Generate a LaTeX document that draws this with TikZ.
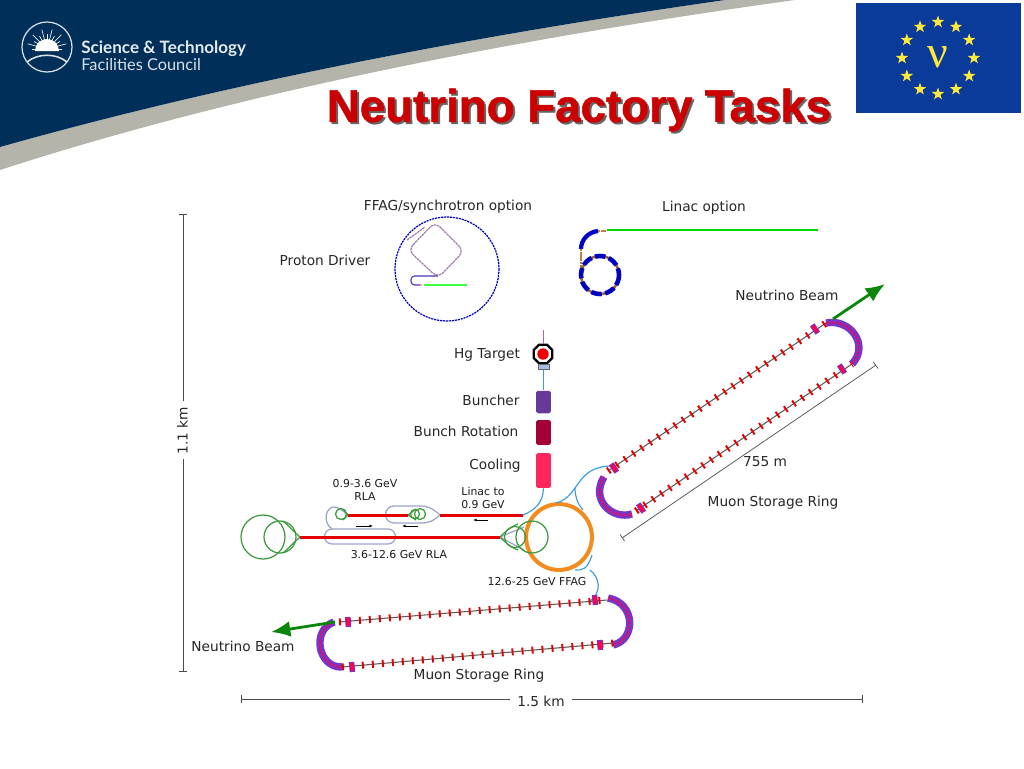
\documentclass[tikz,border=0pt]{standalone}
\usepackage{fontspec}
\setmainfont{DejaVu Sans}
\newfontfamily\titlefont[BoldFeatures={FakeBold=1.2}]{Liberation Sans}
\newfontfamily\logofont{Lato}
\newfontfamily\nufont{Liberation Serif}
\usetikzlibrary{shapes.geometric,calc,arrows.meta}
\definecolor{stfcnavy}{HTML}{00305A}
\definecolor{stfcgrey}{HTML}{B4B4AA}
\definecolor{flagblue}{HTML}{0A3A9A}
\definecolor{flagstar}{HTML}{FFE93B}
\definecolor{titlered}{HTML}{CC0000}
\definecolor{ringorange}{HTML}{F28C1E}
\definecolor{rlagreen}{HTML}{3C9A3C}
\definecolor{arcgrey}{HTML}{9AA4C8}
\definecolor{pipeblue}{HTML}{3A9AE0}
\definecolor{beamgreen}{HTML}{0A860A}
\definecolor{ringpurple}{HTML}{7438C8}
\definecolor{drivermauve}{HTML}{A07AA8}
\tikzset{
  label/.style={font=\fontsize{7.8}{9.5}\selectfont, text=black!85, inner sep=0pt, align=center, yshift=-.3pt},
  smalllabel/.style={font=\fontsize{6.2}{7.6}\selectfont, text=black!90, inner sep=0pt, align=center},
  stage/.style={draw=none, rounded corners=1pt, minimum width=8.5pt, inner sep=0pt},
  flagstarnode/.style={star, star points=5, star point ratio=2.5, fill=flagstar, inner sep=0pt, minimum size=7.4pt},
  rlaline/.style={red!90!black, line width=1.7pt},
  rlaloop/.style={rlagreen, line width=.7pt},
  arcloop/.style={arcgrey, line width=.7pt},
  pipe/.style={pipeblue, line width=.65pt},
  dimline/.style={black!70, line width=.4pt, |-|},
  beamarrow/.style={beamgreen, line width=1.6pt, -{Latex[length=11pt,width=9pt]}},
  smallarrow/.style={black, line width=.4pt, -{Latex[length=2pt,width=1.6pt]}},
  straightline/.style={black!65, line width=.6pt},
  quadtick/.style={red!90!black, line width=4pt, dash pattern=on 1.1pt off 4.6pt},
  bendbase/.style={ringpurple, line width=4.2pt},
  bendtick/.style={red!70!magenta, line width=1.3pt, dash pattern=on .8pt off .9pt},
  endbox/.style={draw=ringpurple, fill=red!70!magenta, line width=.5pt, minimum width=2.6pt, minimum height=5.2pt, inner sep=0pt},
  driverring/.style={blue!75!black, line width=.7pt, dash pattern=on 1.2pt off .5pt},
  latticeline/.style={drivermauve, line width=.7pt, dash pattern=on 1.4pt off .4pt}
}
\begin{document}
\begin{tikzpicture}[x=.02cm, y=-.02cm]
  \useasboundingbox (0,0) rectangle (1024,768);
  % header
  \fill[stfcgrey] (0,147) .. controls (230,82) and (480,35) .. (725,0) -- (795,0)
    .. controls (520,38) and (240,92) .. (0,170) -- cycle;
  \fill[stfcnavy] (0,0) -- (725,0) .. controls (480,35) and (230,82) .. (0,147) -- cycle;
  % logo
  \coordinate (sun) at (47,49);
  \draw[white!85!stfcnavy, line width=.7pt] (47,47) circle (25);
  \foreach \a in {180,195,...,360} \draw[white!92!stfcnavy, line width=.4pt] (sun) -- ++(\a:{15+5*mod(\a/15,2)});
  \fill[white] (35,51) arc[start angle=180, end angle=360, radius=12] -- cycle;
  \draw[white!85!stfcnavy, line width=.9pt] (27,62) .. controls (38,53) and (56,53) .. (67,62);
  \node[anchor=west, inner sep=0pt, text=white!90!stfcnavy, font=\logofont\bfseries\fontsize{9.7}{12}\selectfont] (stfc1) at (81,49) {Science \& Technology};
  \node[anchor=west, inner sep=0pt, text=white!85!stfcnavy, font=\logofont\fontsize{9.3}{12}\selectfont] (stfc2) at (81,65) {Facilities Council};
  % flag
  \fill[flagblue] (856,3) rectangle (1021,113);
  \coordinate (flagc) at (938,58);
  \foreach \n in {1,...,12} \node[flagstarnode] (star\n) at ($(flagc)+({30*\n}:36)$) {};
  \node[text=flagstar, inner sep=0pt, font=\nufont\fontsize{26}{26}\selectfont] (nu) at (938,57) {ν};
  % title
  \node[text=black!60, inner sep=0pt, font=\titlefont\bfseries\fontsize{26}{30}\selectfont] (titleshadow) at (581,112) {Neutrino Factory Tasks};
  \node[text=titlered, inner sep=0pt, font=\titlefont\bfseries\fontsize{26}{30}\selectfont] (title) at (579,110) {Neutrino Factory Tasks};
  % proton driver
  \node[label] (ffagopt) at (448,206) {FFAG/synchrotron option};
  \node[label] (linacopt) at (704,207) {Linac option};
  \node[label] (driver) at (325,260) {Proton Driver};
  \draw[driverring] (447,269) circle (52);
  \draw[latticeline, rounded corners=4pt] (435,222) -- (464,251) -- (438,278) -- (408,250) -- cycle;
  \draw[latticeline] (407,240) -- (425,227);
  \draw[blue!60!brown, line width=.6pt, rounded corners=2pt] (438,276) -- (411,276) -- (411,285) -- (420,285);
  \draw[pink!70!brown, line width=.6pt, dash pattern=on 1pt off 1pt] (420,285) -- (424,285);
  \draw[green!75!white, line width=.9pt] (424,285) -- (467,285);
  % linac option
  \draw[green!85!black, line width=.6pt] (607,230) -- (818,230);
  \draw[blue!80!black, line width=2.4pt] (598,231) .. controls (588,232) and (581,240) .. (581,249);
  \draw[latticeline, brown] (598,231) -- (606,231);
  \draw[latticeline, brown] (581,249) -- (581,268);
  \draw[brown!80!black, line width=1.4pt] (600,275) circle (19);
  \draw[blue!75!black, line width=2.6pt, dash pattern=on 6pt off 2pt] (600,275) circle (19);
  % front end
  \node[label] (hglab) at (487,354) {Hg Target};
  \node[label] (bunlab) at (491,400) {Buncher};
  \node[label] (rotlab) at (466,431) {Bunch Rotation};
  \node[label] (coollab) at (495,465) {Cooling};
  \node[regular polygon, regular polygon sides=8, draw=black, fill=white, line width=1.3pt, minimum size=11.5pt, inner sep=0pt] (target) at (543,354) {};
  \node[circle, fill=red!95!black, minimum size=6.5pt, inner sep=0pt] (hg) at (543,354) {};
  \node[draw=black!60, fill=cyan!50!blue!35, minimum width=6pt, minimum height=3pt, inner sep=0pt, line width=.3pt] (horn) at (543.5,367) {};
  \node[stage, fill=violet!65!blue!55!gray, minimum height=12.8pt] (buncher) at (543.5,402) {};
  \node[stage, fill=purple!85!black, minimum height=14.2pt] (rotation) at (543.5,432.5) {};
  \node[stage, fill=red!75!magenta!85!white, minimum height=19.8pt] (cooling) at (543.5,470.5) {};
  \coordinate (tgtin) at (543,330);
  \draw[violet!60, line width=.5pt] (tgtin) -- (target);
  \draw[pipe] (horn) -- (buncher);
  % muon acceleration
  \node[circle, draw=ringorange, line width=2.3pt, minimum size=37.5pt, inner sep=0pt] (ffag) at (559,537) {};
  \coordinate (rlaA) at (300,537); \coordinate (rlaB) at (500,537);
  \coordinate (rlaC) at (348,515); \coordinate (rlaD) at (408,515);
  \coordinate (linA) at (440,515); \coordinate (linB) at (523,515);
  \draw[arcloop] (332,529) -- (388,529) arc[start angle=-90, end angle=90, radius=7.5] -- (332,544) arc[start angle=90, end angle=270, radius=7.5];
  \draw[arcloop] (rlaC) .. controls (342,510) and (338,507) .. (334,507) .. controls (326,507) and (322,522) .. (332,529);
  \draw[arcloop] (linA) .. controls (432,508) and (428,506) .. (420,506) -- (394,506) arc[start angle=270, end angle=90, radius=8.5] -- (420,523) .. controls (428,523) and (432,522) .. (linA);
  \draw[arcloop] (rlaB) -- (524,527);
  \draw[arcloop] (rlaB) -- (524,550);
  \draw[rlaline] (rlaA) -- (rlaB);
  \draw[rlaline] (rlaC) -- (rlaD);
  \draw[rlaline] (linA) -- (linB);
  \draw[rlaloop] (263,537) circle (22);
  \draw[rlaloop] (280,537) circle (16);
  \draw[rlaloop] (rlaA) .. controls (294,532) and (289,526) .. (283,521);
  \draw[rlaloop] (rlaA) .. controls (294,542) and (289,548) .. (283,553);
  \draw[rlaloop] (532,537) circle (16);
  \draw[rlaloop] (515,537) circle (10.5);
  \draw[rlaloop] (rlaB) .. controls (505,532) and (510,527) .. (518,524);
  \draw[rlaloop] (rlaB) .. controls (505,542) and (510,547) .. (518,550);
  \draw[rlaloop] (341,514) circle (5.5);
  \draw[rlaloop] (rlaC) -- (343,509); \draw[rlaloop] (rlaC) -- (343,520);
  \draw[rlaloop] (415,514) circle (4.5);
  \draw[rlaloop] (420,514) circle (5.5);
  \draw[rlaloop] (rlaD) -- (416,509); \draw[rlaloop] (rlaD) -- (416,520);
  \draw[smallarrow] (356,526) -- (373,526);
  \draw[smallarrow] (418,526) -- (402,526);
  \draw[smallarrow] (488,520) -- (473,520);
  \node[smalllabel] (rla1) at (365,490) {0.9-3.6 GeV\\RLA};
  \node[smalllabel] (linac) at (483,498) {Linac to\\0.9 GeV};
  \node[smalllabel] (rla2) at (399,555) {3.6-12.6 GeV RLA};
  \node[smalllabel] (ffaglab) at (537,582) {12.6-25 GeV FFAG};
  % transfer lines
  \draw[pipe] (cooling.south) .. controls (543,503) and (535,510) .. (linB);
  \draw[pipe] (556,503) .. controls (580,497) and (575,466) .. (612,466);
  \draw[pipe] (575,488) .. controls (575,496) and (577,503) .. (583,510);
  \draw[pipe] (575,570) .. controls (583,570) and (587,570) .. (592,555);
  \draw[pipe] (590,570) .. controls (600,578) and (602,592) .. (590,601);
  % upper storage ring
  \coordinate (uA) at (608,471); \coordinate (uB) at (826,323);
  \coordinate (uC) at (636,511); \coordinate (uD) at (852,364);
  \draw[bendbase] (uB) .. controls (850,318) and (870,345) .. (uD);
  \draw[bendtick] (uB) .. controls (850,318) and (870,345) .. (uD);
  \draw[bendbase] (604,477) .. controls (590,500) and (612,520) .. (632,514);
  \draw[bendtick] (604,477) .. controls (590,500) and (612,520) .. (632,514);
  \draw[straightline] (uA) -- (uB);
  \draw[straightline] (uC) -- (uD);
  \draw[quadtick] (uA) -- (uB);
  \draw[quadtick] (uC) -- (uD);
  \node[endbox, rotate=34] (uend1) at (614,468) {};
  \node[endbox, rotate=34] (uend2) at (641,508) {};
  \node[endbox, rotate=34] (uend3) at (815,329) {};
  \node[endbox, rotate=34] (uend4) at (842,369) {};
  \coordinate (ubeam) at (833,319); \coordinate (ubeamend) at (885,284);
  \draw[beamarrow] (ubeam) -- (ubeamend);
  \node[label] (unu) at (787,295) {Neutrino Beam};
  \node[label] (umuon) at (773,502) {Muon Storage Ring};
  \coordinate (dimuA) at (622,538); \coordinate (dimuB) at (876,365);
  \draw[dimline] (dimuA) -- (dimuB);
  \node[label] (len) at (765,461) {755 m};
  % lower storage ring
  \coordinate (lA) at (339,622); \coordinate (lB) at (607,600);
  \coordinate (lC) at (342,667); \coordinate (lD) at (613,643);
  \draw[bendbase] (334,622) .. controls (311,630) and (318,668) .. (lC);
  \draw[bendtick] (334,622) .. controls (311,630) and (318,668) .. (lC);
  \draw[bendbase] (608,598) .. controls (636,603) and (636,640) .. (613,645);
  \draw[bendtick] (608,598) .. controls (636,603) and (636,640) .. (613,645);
  \draw[straightline] (lA) -- (lB);
  \draw[straightline] (lC) -- (lD);
  \draw[quadtick] (lA) -- (lB);
  \draw[quadtick] (lC) -- (lD);
  \node[endbox, rotate=5] (lend1) at (348,622) {};
  \node[endbox, rotate=5] (lend2) at (352,667) {};
  \node[endbox, rotate=5] (lend3) at (595,600) {};
  \node[endbox, rotate=5] (lend4) at (600,645) {};
  \coordinate (lbeam) at (335,622); \coordinate (lbeamend) at (271,632);
  \draw[beamarrow] (lbeam) -- (lbeamend);
  \node[label] (lnu) at (243,646) {Neutrino Beam};
  \node[label] (lmuon) at (479,675) {Muon Storage Ring};
  % dimensions
  \coordinate (dimvA) at (183,214); \coordinate (dimvB) at (183,672);
  \draw[dimline] (dimvA) -- (dimvB);
  \node[label, rotate=90, fill=white, inner ysep=2pt, inner xsep=3pt, xshift=.6pt, yshift=.3pt] (height) at (183,431) {1.1 km};
  \coordinate (dimhA) at (241,699); \coordinate (dimhB) at (863,699);
  \draw[dimline] (dimhA) -- (dimhB);
  \node[label, fill=white, inner xsep=4pt, inner ysep=2pt] (width) at (541,701) {1.5 km};
\end{tikzpicture}
\end{document}
